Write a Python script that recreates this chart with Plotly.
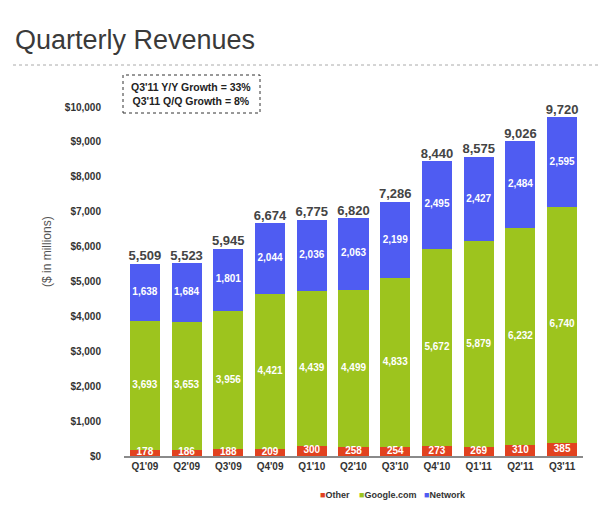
import plotly.graph_objects as go

quarters = ["Q1'09", "Q2'09", "Q3'09", "Q4'09", "Q1'10", "Q2'10", "Q3'10", "Q4'10", "Q1'11", "Q2'11", "Q3'11"]
other = [178, 186, 188, 209, 300, 258, 254, 273, 269, 310, 385]
google = [3693, 3653, 3956, 4421, 4439, 4499, 4833, 5672, 5879, 6232, 6740]
network = [1638, 1684, 1801, 2044, 2036, 2063, 2199, 2495, 2427, 2484, 2595]
totals = [5509, 5523, 5945, 6674, 6775, 6820, 7286, 8440, 8575, 9026, 9720]
y_ticks = [0, 1000, 2000, 3000, 4000, 5000, 6000, 7000, 8000, 9000, 10000]
series_names = ["Other", "Google.com", "Network"]

RED = "#E2421F"
GREEN = "#9DC41E"
BLUE = "#4F5CF2"
COLORS = [RED, GREEN, BLUE]
FONT = "Arial, Liberation Sans, sans-serif"

fig = go.Figure()
for name, vals, col in zip(series_names, [other, google, network], COLORS):
    fig.add_trace(go.Bar(x=quarters, y=vals, name=name, marker=dict(color=col, line=dict(width=0)),
                         hoverinfo="x+y", showlegend=False))

# segment labels (centred in each segment)
mid_other = [o / 2 for o in other]
mid_google = [o + g / 2 for o, g in zip(other, google)]
mid_net = [o + g + n / 2 for o, g, n in zip(other, google, network)]
for mids, vals in [(mid_other, other), (mid_google, google), (mid_net, network)]:
    fig.add_trace(go.Scatter(x=quarters, y=mids, mode="text", text=[f"{v:,}" for v in vals],
                             textposition="middle center", showlegend=False, hoverinfo="skip",
                             textfont=dict(family=FONT, size=10, color="white", weight="bold")))

fig.add_trace(go.Scatter(x=quarters, y=totals, mode="text", text=[f"{v:,}" for v in totals],
                         textposition="top center", showlegend=False, hoverinfo="skip",
                         textfont=dict(family=FONT, size=13, color="#444444", weight="bold")))

# compact legend (marker square immediately followed by text, as in the original)
legend_x = [(318 - 124) / 459, (357 - 124) / 459, (422 - 124) / 459]
legend_anns = [
    dict(text=f'<span style="color:{c}">■</span>{n}', xref="paper", yref="paper", x=lx,
         y=(456 - 495) / 376, xanchor="left", yanchor="middle", showarrow=False,
         font=dict(family=FONT, size=9, color="#333", weight="bold"))
    for n, c, lx in zip(series_names, COLORS, legend_x)
]

fig.update_layout(
    width=600, height=511,
    margin=dict(l=124, r=17, t=80, b=55),
    barmode="stack", bargap=0.28,
    plot_bgcolor="white", paper_bgcolor="white",
    font=dict(family=FONT, color="#333"),
    showlegend=False,
    title=dict(text="Quarterly Revenues", x=15 / 600, xref="container", xanchor="left",
               y=1 - 40 / 511, yref="container", yanchor="middle",
               font=dict(family=FONT, size=27, color="#3a3a3a")),
    xaxis=dict(showgrid=False, showline=True, linecolor="#8a8a8a", linewidth=2, ticks="",
               tickfont=dict(family=FONT, size=10, color="#333", weight="bold"), range=[-0.5, 10.5]),
    yaxis=dict(showgrid=False, zeroline=False, showline=False, range=[0, 10774], tickvals=y_ticks,
               ticktext=[f"${v:,}" for v in y_ticks], ticklabelstandoff=22,
               tickfont=dict(family=FONT, size=10, color="#333", weight="bold")),
    shapes=[
        dict(type="line", xref="paper", yref="paper", x0=(13 - 124) / 459, x1=(600 - 124) / 459,
             y0=(456 - 65) / 376, y1=(456 - 65) / 376, line=dict(color="#aaaaaa", width=1, dash="dot")),
        dict(type="rect", xref="paper", yref="paper", x0=(123 - 124) / 459, x1=(260 - 124) / 459,
             y0=(456 - 113) / 376, y1=(456 - 75) / 376, line=dict(color="#333", width=1, dash="dot"),
             fillcolor="white"),
    ],
    annotations=[
        dict(text="($ in millions)", xref="paper", yref="paper", x=(47 - 124) / 459, y=(456 - 252) / 376,
             xanchor="center", yanchor="middle",
             textangle=-90, showarrow=False, font=dict(family=FONT, size=12, color="#555")),
        dict(text="Q3'11 Y/Y Growth = 33%<br>Q3'11 Q/Q Growth = 8%", xref="paper", yref="paper",
             x=(191 - 124) / 459, y=(456 - 94) / 376, xanchor="center", yanchor="middle", showarrow=False,
             font=dict(family=FONT, size=10.5, color="#222", weight="bold")),
    ] + legend_anns,
)

fig.write_html("out.html")
